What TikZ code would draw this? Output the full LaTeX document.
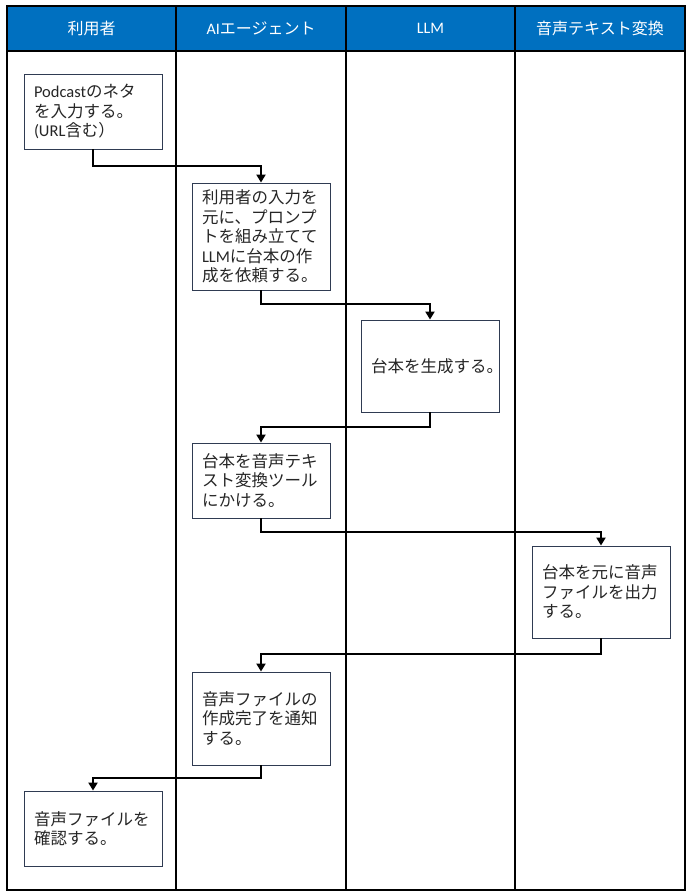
\documentclass[tikz,border=0pt]{standalone}
\usepackage{fontspec}
\setmainfont{Noto Sans CJK JP}
\newfontfamily\lat{Carlito}
\usetikzlibrary{arrows.meta}
\definecolor{hdrblue}{HTML}{0070C0}
\definecolor{boxline}{HTML}{2F3B52}
\definecolor{txt}{HTML}{262626}
\tikzset{
  lane/.style={draw=black, line width=1.3pt},
  hdr/.style={text=white, font=\fontsize{16}{19}\selectfont},
  stepbox/.style={draw=boxline, line width=0.9pt, fill=white, text=txt,
    text width=118pt, inner xsep=10pt, inner ysep=0pt, align=left,
    minimum width=138pt, font=\fontsize{16.5}{19.5}\selectfont},
  arr/.style={draw=black, line width=2pt, -{Triangle[width=9pt,length=8pt]}}
}
\begin{document}
\begin{tikzpicture}[x=1pt,y=-1pt]
\useasboundingbox (0,0) rectangle (688,894);
% header band
\fill[hdrblue] (7,6) rectangle (685,51);
% lanes
\draw[lane] (7,6) rectangle (685,890);
\draw[lane] (7,51) -- (685,51);
\draw[lane] (176,6) -- (176,890);
\draw[lane] (346,6) -- (346,890);
\draw[lane] (515,6) -- (515,890);
% header texts
\node[hdr] (h1) at (91.5,28) {利用者};
\node[hdr] (h2) at (261,28) {{\lat AI}エージェント};
\node[hdr] (h3) at (430.5,28) {\lat LLM};
\node[hdr] (h4) at (600,28) {音声テキスト変換};
% boxes
\node[stepbox, minimum height=75pt] (b1) at (93,111.5)
  {{\lat Podcast}のネタ\\を入力する。\\{\lat (URL}含む）};
\node[stepbox, minimum height=107pt] (b2) at (261,236.5)
  {利用者の入力を\\元に、プロンプ\\トを組み立てて\\{\lat LLM}に台本の作\\成を依頼する。};
\node[stepbox, minimum height=92pt] (b3) at (430,366)
  {台本を生成する。};
\node[stepbox, minimum height=75pt] (b4) at (261,480.5)
  {台本を音声テキ\\スト変換ツール\\にかける。};
\node[stepbox, minimum height=92pt] (b5) at (601,592)
  {台本を元に音声\\ファイルを出力\\する。};
\node[stepbox, minimum height=93pt] (b6) at (261,718.5)
  {音声ファイルの\\作成完了を通知\\する。};
\node[stepbox, minimum height=75pt] (b7) at (93,828.5)
  {音声ファイルを\\確認する。};
% connectors
\draw[arr] (b1.south) -- ++(0,17) -| (b2.north);
\draw[arr] (b2.south) -- ++(0,14) -| (b3.north);
\draw[arr] (b3.south) -- ++(0,15) -| (b4.north);
\draw[arr] (b4.south) -- ++(0,14) -| (b5.north);
\draw[arr] (b5.south) -- ++(0,16) -| (b6.north);
\draw[arr] (b6.south) -- ++(0,13) -| (b7.north);
\end{tikzpicture}
\end{document}
